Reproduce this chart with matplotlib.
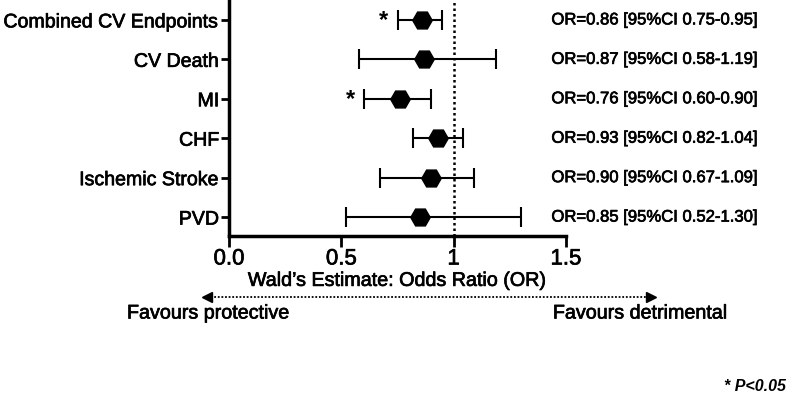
import matplotlib
matplotlib.use("Agg")
import matplotlib.pyplot as plt
from matplotlib.lines import Line2D
import matplotlib.patheffects as pe

plt.rcParams['font.family'] = ['Liberation Sans', 'DejaVu Sans']

categories = ["Combined CV Endpoints", "CV Death", "MI", "CHF", "Ischemic Stroke", "PVD"]
odds_ratio = [0.86, 0.87, 0.76, 0.93, 0.90, 0.85]
ci_low = [0.75, 0.58, 0.60, 0.82, 0.67, 0.52]
ci_high = [0.95, 1.19, 0.90, 1.04, 1.09, 1.30]
significant = [True, False, True, False, False, False]
x_ticks = [0.0, 0.5, 1.0, 1.5]
x_tick_labels = ["0.0", "0.5", "1", "1.5"]

W, H = 787, 402
fig = plt.figure(figsize=(W / 100, H / 100), dpi=100)
ax = fig.add_axes([229 / W, (H - 237) / H, (566 - 229) / W, 237 / H])

heavy = [pe.withStroke(linewidth=0.5, foreground='black')]

n = len(categories)
ypos = [n - 1 - i for i in range(n)]

for i in range(n):
    y = ypos[i]
    ax.errorbar(odds_ratio[i], y,
                xerr=[[odds_ratio[i] - ci_low[i]], [ci_high[i] - odds_ratio[i]]],
                fmt='H', color='black', markersize=14, ecolor='black',
                elinewidth=1.5, capsize=7, capthick=1.5, zorder=3)
    label = f"OR={odds_ratio[i]:.2f} [95%CI {ci_low[i]:.2f}-{ci_high[i]:.2f}]"
    ax.text(1.435, y, label, fontsize=12, va='center', ha='left', clip_on=False,
            path_effects=heavy)
    if significant[i]:
        ax.text(ci_low[i] - 0.04, y + 0.0, "*", fontsize=17, fontweight='bold',
                ha='right', va='center')

ax.axvline(1.0, color='black', linestyle=(0, (1, 1.2)), linewidth=1.8, zorder=1)

ax.set_xlim(0, 1.5)
ax.set_ylim(-0.48, n - 1 + 0.53)
ax.set_yticks(ypos)
ax.set_yticklabels(categories, fontsize=14.1)
ax.set_xticks(x_ticks)
ax.set_xticklabels(x_tick_labels, fontsize=16)
for t in ax.get_yticklabels() + ax.get_xticklabels():
    t.set_path_effects(heavy)
ax.tick_params(axis='y', length=6, width=2, pad=1)
ax.tick_params(axis='x', length=8, width=2, pad=1)
xl = ax.set_xlabel("Wald\u2019s Estimate: Odds Ratio (OR)", fontsize=14.2, labelpad=1)
xl.set_path_effects(heavy)

for s in ['top', 'right']:
    ax.spines[s].set_visible(False)
for s in ['left', 'bottom']:
    ax.spines[s].set_linewidth(2.5)

# Direction arrow
y_arr = (H - 298) / H
x0, x1 = 207 / W, 651 / W
fig.add_artist(Line2D([x0, x1], [y_arr, y_arr], transform=fig.transFigure,
                      color='black', linestyle=(0, (1, 1)), linewidth=1.3))
fig.add_artist(Line2D([x0], [y_arr], transform=fig.transFigure, marker='<',
                      markersize=7, color='black', linestyle='none'))
fig.add_artist(Line2D([x1], [y_arr], transform=fig.transFigure, marker='>',
                      markersize=7, color='black', linestyle='none'))
fig.text(127 / W, (H - 314) / H, "Favours protective", fontsize=14.2, ha='left',
         va='center', path_effects=heavy)
fig.text(728 / W, (H - 314) / H, "Favours detrimental", fontsize=14.2, ha='right',
         va='center', path_effects=heavy)

fig.text(786 / W, (H - 387) / H, "* P<0.05", fontsize=11.5, fontstyle='italic',
         fontweight='bold', ha='right', va='center')

fig.savefig("out.png", dpi=100)
